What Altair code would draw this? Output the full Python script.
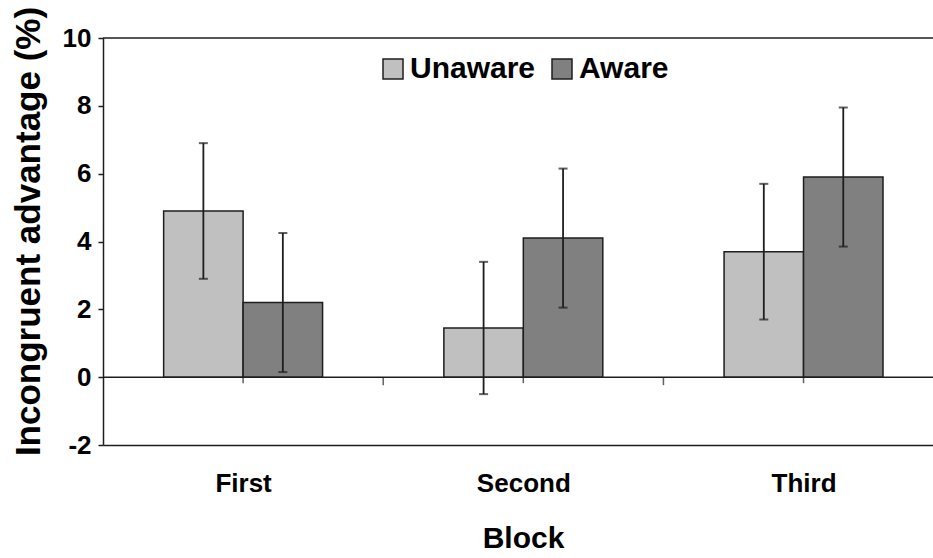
import json

import altair as alt
import pandas as pd

# Incongruent advantage by block, for unaware and aware participants
blocks = ["First", "Second", "Third"]
groups = ["Unaware", "Aware"]
unaware_mean = [4.9, 1.45, 3.7]
unaware_err = [2.0, 1.95, 2.0]
aware_mean = [2.2, 4.1, 5.9]
aware_err = [2.05, 2.05, 2.05]
y_ticks = [-2, 0, 2, 4, 6, 8, 10]
group_colors = ["#c0c0c0", "#808080"]

FONT = "Liberation Sans"
INK = "#1e1e1e"
BAR_W = 0.2836   # width of one bar, in block units
X_MAX = 2.962    # right end of the visible block axis

rows = []
for i, b in enumerate(blocks):
    for g, means, errs, side in (
        ("Unaware", unaware_mean, unaware_err, -1),
        ("Aware", aware_mean, aware_err, 0),
    ):
        left = i + 0.5 + side * BAR_W
        rows.append(dict(block=b, group=g, x0=left, x1=left + BAR_W,
                         xc=left + BAR_W / 2, value=means[i], base=0,
                         lo=means[i] - errs[i], hi=means[i] + errs[i]))
df = pd.DataFrame(rows)

centers = pd.DataFrame({"pos": [i + 0.5 for i in range(len(blocks))], "zero": 0})
bounds = pd.DataFrame({"pos": [float(i) for i in range(1, len(blocks))], "zero": 0})
zero_df = pd.DataFrame({"v": [0]})
top_df = pd.DataFrame({"v": [y_ticks[-1]]})

x_scale = alt.Scale(domain=[0, X_MAX], nice=False, zero=False)
y_scale = alt.Scale(domain=[y_ticks[0], y_ticks[-1]], nice=False, zero=False)

label_expr = "{}[round(datum.value - 0.5)]".format(json.dumps(blocks))

x_axis = alt.Axis(
    values=[i + 0.5 for i in range(len(blocks))], labelExpr=label_expr,
    title="Block", titleFont=FONT, titleFontSize=30, titleFontWeight="bold",
    titleColor="black", titlePadding=27, titleX=420,
    labelFont=FONT, labelFontSize=26, labelFontWeight="bold",
    labelColor="black", labelPadding=25, labelAngle=0,
    ticks=False, grid=False, domainColor=INK, domainWidth=1.5)

y_axis = alt.Axis(
    values=y_ticks, labelExpr="datum.value + ''",
    title="Incongruent advantage (%)", titleFont=FONT, titleFontSize=35,
    titleFontWeight="bold", titleColor="black", titleAngle=270,
    titleAlign="center", titleBaseline="alphabetic", titleX=-64, titleY=193,
    labelFont=FONT, labelFontSize=26, labelFontWeight="bold",
    labelColor="black", labelPadding=7,
    tickSize=5, tickColor=INK, tickWidth=1.5,
    grid=False, domainColor=INK, domainWidth=1.5)


def X(field):
    return alt.X(field, scale=x_scale, axis=x_axis)


def Y(field):
    return alt.Y(field, scale=y_scale, axis=y_axis)


bars = alt.Chart(df).mark_rect(stroke=INK, strokeWidth=1.5).encode(
    x=X("x0:Q"), x2="x1:Q",
    y=Y("value:Q"), y2="base:Q",
    color=alt.Color("group:N", scale=alt.Scale(domain=groups, range=group_colors),
                    legend=alt.Legend(
                        orient="none", legendX=275, legendY=16,
                        direction="horizontal", title=None,
                        symbolType="square", symbolSize=400,
                        symbolStrokeColor=INK, symbolStrokeWidth=1.5,
                        symbolOpacity=1,
                        labelFont=FONT, labelFontSize=30, labelFontWeight="bold",
                        labelColor="black", labelOffset=2, columnPadding=11)),
)

err = alt.Chart(df).mark_rule(color=INK, strokeWidth=1.8).encode(
    x=X("xc:Q"), y=Y("lo:Q"), y2="hi:Q")
cap_hi = alt.Chart(df).mark_tick(orient="horizontal", size=9, thickness=2, color=INK).encode(
    x=X("xc:Q"), y=Y("hi:Q"))
cap_lo = alt.Chart(df).mark_tick(orient="horizontal", size=9, thickness=2, color=INK).encode(
    x=X("xc:Q"), y=Y("lo:Q"))

# zero line and top frame line
zero_line = alt.Chart(zero_df).mark_rule(color=INK, strokeWidth=1.5).encode(y=Y("v:Q"))
top_line = alt.Chart(top_df).mark_rule(color=INK, strokeWidth=1.5).encode(y=Y("v:Q"))

# category ticks hanging below the zero line
bound_ticks = alt.Chart(bounds).mark_tick(orient="vertical", size=8, thickness=1.5,
                                          yOffset=4, color=INK).encode(
    x=X("pos:Q"), y=Y("zero:Q"))
center_ticks = alt.Chart(centers).mark_tick(orient="vertical", size=6, thickness=1.5,
                                            yOffset=3, color=INK).encode(
    x=X("pos:Q"), y=Y("zero:Q"))

chart = alt.layer(
    bars, zero_line, top_line, bound_ticks, center_ticks, err, cap_hi, cap_lo
).properties(
    width=830, height=407,
    padding={"left": 103, "top": 38, "right": 0, "bottom": 113},
    autosize=alt.AutoSizeParams(type="none"),
    background="white",
).configure_view(stroke=None)

chart.save("out.html", embed_options={"renderer": "svg", "actions": False})
